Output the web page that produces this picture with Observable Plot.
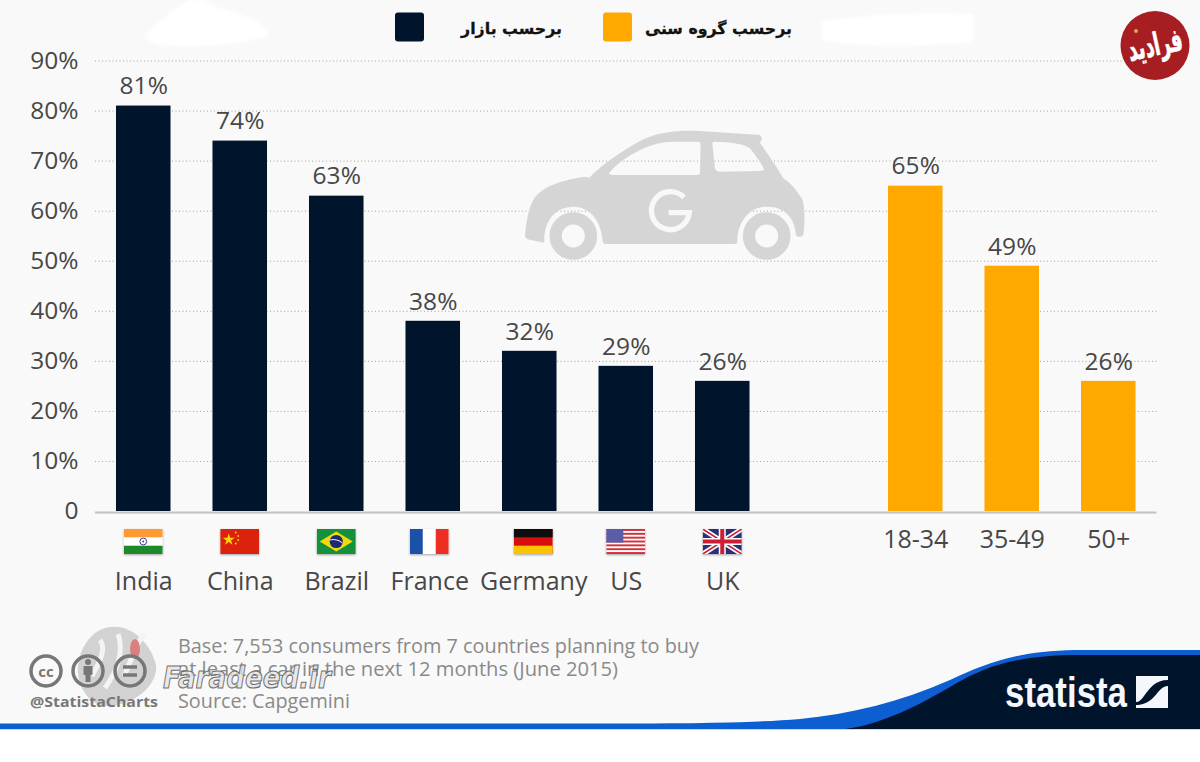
<!DOCTYPE html>
<html><head><meta charset="utf-8">
<script src="https://cdn.jsdelivr.net/npm/d3@7"></script>
<script src="https://cdn.jsdelivr.net/npm/@observablehq/plot@0.6"></script>
<style>
html,body{margin:0;padding:0;background:#fff;width:1200px;height:762px;overflow:hidden}
svg{display:block}
</style></head><body><div id="chart"></div>
<script>
const countries = ["India","China","Brazil","France","Germany","US","UK"];
const countryValues = [81,74,63,38,32,29,26];
const ages = ["18-34","35-49","50+"];
const ageValues = [65,49,26];
const gap = " ";
const yTicks = [0,10,20,30,40,50,60,70,80,90];
const legendLabels = ["برحسب بازار","برحسب گروه سنی"];
const navy = "#00142c", orange = "#ffa800", ink = "#474747";
const footLines = ["Base: 7,553 consumers from 7 countries planning to buy","at least a car in the next 12 months (June 2015)","Source: Capgemini"];

const svgUri = (w,h,body) => "data:image/svg+xml;utf8," + encodeURIComponent(`<svg xmlns="http://www.w3.org/2000/svg" width="${w*3}" height="${h*3}" viewBox="0 0 ${w} ${h}">${body}</svg>`);
const usStripes = d3.range(0,13,2).map(i=>`<rect y="${i*25/13}" width="39" height="${25/13}" fill="#d22f3a"/>`).join("");
const flagBodies = {
  India:`<rect width="39" height="25" fill="#fff"/><rect width="39" height="8.3" fill="#ff9a33"/><rect y="16.7" width="39" height="8.3" fill="#1d8a2c"/><circle cx="19.5" cy="12.5" r="3.4" fill="none" stroke="#3a3f8f" stroke-width="1"/><circle cx="19.5" cy="12.5" r="1" fill="#3a3f8f"/>`,
  China:`<rect width="39" height="25" fill="#dc2408"/><path d="M8 3.5l1.4 4.3h4.5l-3.6 2.7 1.4 4.3-3.7-2.7-3.7 2.7 1.4-4.3-3.6-2.7h4.5z" fill="#fbd30a" transform="translate(0.5,1)"/><g fill="#fbd30a"><circle cx="15.5" cy="3.5" r=".9"/><circle cx="18" cy="7" r=".9"/><circle cx="18" cy="11" r=".9"/><circle cx="15.5" cy="14.5" r=".9"/></g>`,
  Brazil:`<rect width="39" height="25" fill="#16913a"/><path d="M19.5 2.5L36 12.5 19.5 22.5 3 12.5z" fill="#f4d90c"/><circle cx="19.5" cy="12.5" r="6.6" fill="#1b2a72"/><path d="M13.2 11c4-1 9-0.2 12.4 3" stroke="#fff" stroke-width="1" fill="none"/>`,
  France:`<rect width="39" height="25" fill="#fff"/><rect width="13" height="25" fill="#1c51a8"/><rect x="26" width="13" height="25" fill="#ee2f24"/>`,
  Germany:`<rect width="39" height="25" fill="#d80f0f"/><rect width="39" height="8.3" fill="#0a0a0a"/><rect y="16.7" width="39" height="8.3" fill="#fcc400"/>`,
  US:`<rect width="39" height="25" fill="#fff"/>${usStripes}<rect width="17" height="13.5" fill="#3a3d94"/><rect width="17" height="13.5" fill="#9a9cd0" opacity=".35"/>`,
  UK:`<rect width="39" height="25" fill="#2a2f7c"/><path d="M0 0L39 25M39 0L0 25" stroke="#fff" stroke-width="5"/><path d="M0 0L39 25M39 0L0 25" stroke="#cf1f34" stroke-width="1.6"/><path d="M19.5 0V25M0 12.5H39" stroke="#fff" stroke-width="7"/><path d="M19.5 0V25M0 12.5H39" stroke="#cf1f34" stroke-width="4"/>`
};
const flags = countries.map(c => ({c, src: svgUri(39,25,flagBodies[c])}));
const rows = [...countries.map((c,i)=>({k:c,v:countryValues[i],g:"m"})), ...ages.map((c,i)=>({k:c,v:ageValues[i],g:"a"}))];

const NS = "http://www.w3.org/2000/svg";
const frag = html => { const g = document.createElementNS(NS,"g"); g.setAttribute("text-anchor","start"); g.innerHTML = html; return g; };

const background = () => frag(`
  <defs><filter id="soft"><feGaussianBlur stdDeviation="1.5"/></filter>
  <filter id="flagShadow"><feDropShadow dx="0" dy="1" stdDeviation=".8" flood-opacity=".35"/></filter></defs>
  <rect width="1200" height="729" fill="#f9f9f9"/>
  <g filter="url(#soft)">
  <path d="M146 36C160 20 178 5 190 0H205C210 8 225 8 240 14C262 22 270 30 268 36C255 42 200 48 170 46C155 44 146 42 146 36Z" fill="#fff"/>
  <path d="M822 22C860 14 930 12 974 14V42C930 46 860 48 822 40Z" fill="#fff"/></g>`);

const car = () => frag(`<g transform="translate(500,110) scale(.3333)">
  <path fill="#d5d5d5" fill-rule="evenodd" d="M75 380C78 340 85 290 105 262C125 235 170 212 255 200L268 203C300 170 360 125 430 88C480 65 540 60 600 63L780 75L786 85L780 100C800 125 830 170 850 205C880 225 895 250 908 270C915 300 915 340 910 375C905 382 892 382 888 375C885 330 860 290 800 290C745 290 712 340 712 395Q712 402 705 402L320 402Q310 402 308 395C305 340 275 290 220 290C165 290 130 335 133 398L82 388Z
  M330 186C360 150 440 95 520 95L595 95Q602 95 602 102L600 188Q600 195 590 195L340 195Q322 195 330 186Z
  M637 100Q637 95 645 95C690 97 730 100 750 115C765 135 785 160 792 178Q790 183 780 183L660 185Q648 185 645 175Z"/>
  <g fill="none" stroke="#d5d5d5" stroke-width="37"><circle cx="220" cy="378" r="53"/><circle cx="800" cy="378" r="53"/></g>
  <path d="M552 262A57 57 0 1 0 568 308L506 308" fill="none" stroke="#f8f8f8" stroke-width="16"/></g>`);

const overlay = () => {
  const legendX = [[395,navy,562,legendLabels[0]],[603,orange,792,legendLabels[1]]];
  return frag(`
  ${legendX.map(([x,c,tx,t])=>`<rect x="${x}" y="12.5" width="29" height="29" rx="3" fill="${c}"/><text x="${tx}" y="34" direction="rtl" text-anchor="start" font-family="'DejaVu Sans'" font-weight="700" font-size="15.8" fill="#111" stroke="#111" stroke-width=".3">${t}</text>`).join("")}
  <circle cx="1155" cy="45.5" r="34.5" fill="#a61e22"/>
  <text x="1155" y="52" text-anchor="middle" direction="rtl" font-family="'DejaVu Sans'" font-weight="700" font-size="21" fill="#fff" stroke="#fff" stroke-width=".5" transform="rotate(-12 1155 45) translate(1155 45) scale(.85,1.5) translate(-1155 -45)">فرادید</text>
  <circle cx="1136" cy="31" r="2" fill="#f0a040"/>
  <!-- watermark -->
  <path d="M100 630C125 618 150 640 156 665C158 685 135 706 105 706C85 704 76 680 78 665C80 650 88 636 100 630Z" fill="#d2d2d2"/>
  <path d="M100 640C108 650 96 668 92 676M118 634C124 650 118 670 105 688M146 634C136 640 132 660 124 676" stroke="#f4f4f4" stroke-width="5" fill="none"/>
  <ellipse cx="135" cy="649" rx="5" ry="10" fill="#d98080"/>
  <g fill="none" stroke="#777" stroke-width="3.5"><circle cx="46" cy="671" r="15"/><circle cx="88" cy="671" r="15"/><circle cx="130" cy="671" r="15"/></g>
  <text x="46" y="677" text-anchor="middle" font-family="'Open Sans'" font-weight="700" font-size="15" fill="#777">cc</text>
  <circle cx="88" cy="662" r="3" fill="#777"/><rect x="83.5" y="666" width="9" height="9" rx="1" fill="#777"/><rect x="85.5" y="674" width="5" height="8" fill="#777"/>
  <path d="M123 667H137M123 675H137" stroke="#777" stroke-width="3.5"/>
  <text x="30" y="707" font-family="'Open Sans'" font-weight="700" font-size="14.5" fill="#777" textLength="128" lengthAdjust="spacingAndGlyphs">@StatistaCharts</text>
  ${footLines.map((t,i)=>`<text x="178" y="${[653,676,708][i]}" font-family="'Open Sans'" font-size="20" fill="#8a8a8a" textLength="${[521,440,172][i]}" lengthAdjust="spacingAndGlyphs">${t}</text>`).join("")}
  <text x="163" y="688" font-family="'DejaVu Sans'" font-style="italic" font-weight="700" font-size="31" fill="#e4e4e4" fill-opacity=".75" stroke="#707070" stroke-width="1.1" textLength="168" lengthAdjust="spacingAndGlyphs">Faradeed.ir</text>
  <!-- footer band -->
  <path d="M0 723.5H560C660 723.5 740 724 800 719C850 714 900 702 950 680C985 664 1015 651 1075 650H1200V729H0Z" fill="#0d5fd1"/>
  <path d="M845 729C880 725 920 705 955 684C985 667 1015 655 1080 655H1200V729Z" fill="${navy}"/>
  <rect y="729" width="1200" height="1" fill="#999" opacity=".4"/>
  <text x="1005" y="707" font-family="'Liberation Sans Narrow','Liberation Sans'" font-weight="700" font-size="43" fill="#f4f7fb" textLength="122" lengthAdjust="spacingAndGlyphs">statista</text>
  <path d="M1136 676H1168V680C1155 680 1150 688 1144 696C1141 700 1139 702 1136 702ZM1168 686V708H1136V705C1150 705 1155 695 1160 690C1163 687 1165 686 1168 686Z" fill="#f4f7fb"/>`);
};

const nudge = {France:-3.5, Germany:4};
const plain = countries.filter(c => !(c in nudge));
const bw = s => typeof s.x.bandwidth === "function" ? s.x.bandwidth() : s.x.bandwidth;
const flagMark = (list, dx) => Plot.image(list,{x:"c", y:()=>0, src:"src", width:39, height:25, preserveAspectRatio:"none",
  render(i,s,v,d,c,next){
    const g = next(i,s,v,d,c);
    g.setAttribute("transform",`translate(${bw(s)/2+dx},30.5)`);
    g.setAttribute("filter","url(#flagShadow)");
    return g;
  }});
const labelOpts = {tickSize:0, label:null, fontSize:25, fill:ink};
const chart = Plot.plot({
  width:1200, height:762,
  marginLeft:95, marginRight:43.5, marginTop:60.5, marginBottom:251,
  style:{background:"transparent", fontFamily:"'Open Sans'", overflow:"visible"},
  x:{type:"band", domain:[...countries,gap,...ages], paddingInner:.435, paddingOuter:.2175, align:.5, round:false, axis:null, label:null},
  y:{domain:[0,90], ticks:yTicks, axis:null, label:null},
  marks:[
    background,
    Plot.gridY(yTicks.slice(1),{stroke:"#a0a0a0", strokeOpacity:1, strokeWidth:1, strokeDasharray:"1 2.5"}),
    car,
    Plot.barY(rows,{x:"k", y:"v", fill:d=>d.g==="m"?navy:orange}),
    Plot.ruleY([0],{stroke:"#c2c2c2", strokeWidth:2, dy:1}),
    Plot.axisY({ticks:yTicks, tickSize:0, tickPadding:17, tickFormat:d=>d?d+"%":"0", label:null, fontSize:24.5, fill:ink}),
    Plot.text(rows,{x:"k", y:"v", text:d=>d.v+"%", dy:-19.5, fontSize:24.5, fill:ink}),
    Plot.axisX({...labelOpts, ticks:plain, tickPadding:61}),
    Plot.axisX({...labelOpts, ticks:["France"], tickPadding:61, dx:nudge.France}),
    Plot.axisX({...labelOpts, ticks:["Germany"], tickPadding:61, dx:nudge.Germany}),
    Plot.axisX({...labelOpts, ticks:ages, tickPadding:19}),
    flagMark(flags.filter(f=>!(f.c in nudge)),0),
    flagMark(flags.filter(f=>f.c==="France"),nudge.France),
    flagMark(flags.filter(f=>f.c==="Germany"),nudge.Germany),
    overlay
  ]
});
document.getElementById("chart").append(chart);
</script></body></html>
